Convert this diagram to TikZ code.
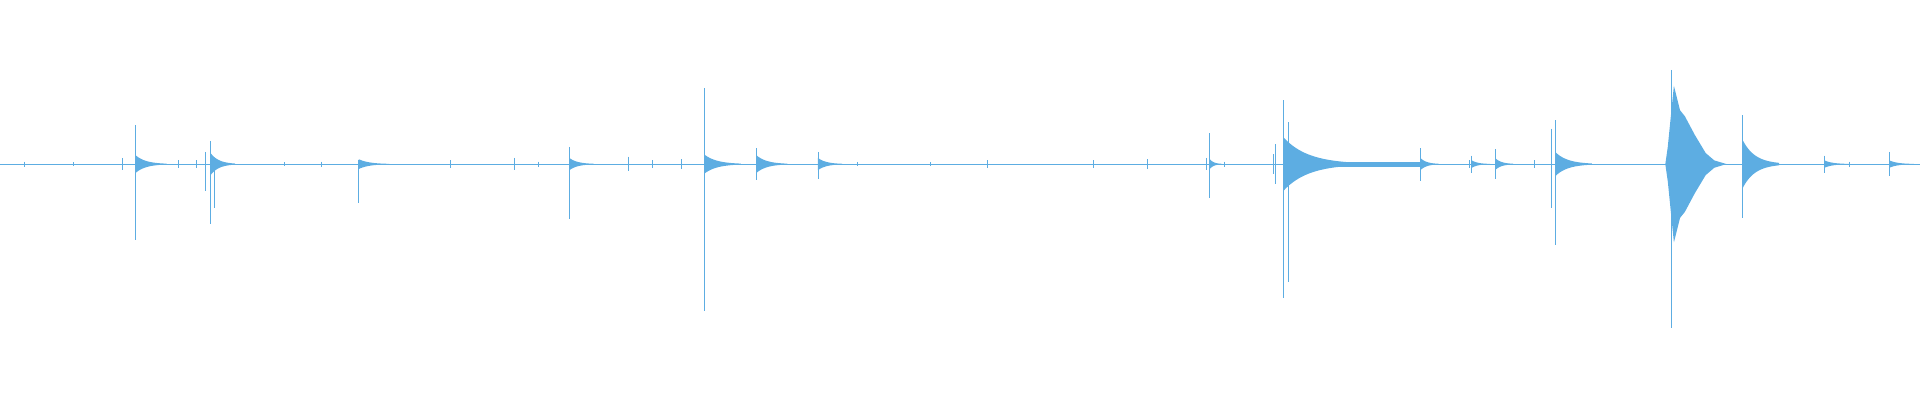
\documentclass[tikz,border=0pt]{standalone}
\begin{document}
\begin{tikzpicture}[x=1.2245pt,y=-1.2245pt]
\definecolor{wv}{HTML}{5DADE2}
\useasboundingbox (0,0) rectangle (1568,326.7);
\tikzset{spk/.style={draw=wv,line width=0.9pt},env/.style={fill=wv}}
\newcommand{\wev}[5]{%
 \draw[spk] (#1,#2) -- (#1,#3);
 \fill[env] (#1,134) -- plot[domain=0:#5,samples=25] ({#1+\x},{134-#4*exp(-3*\x/#5)}) -- plot[domain=#5:0,samples=25] ({#1+\x},{134+#4*exp(-3*\x/#5)}) -- cycle;}
\draw[wv,line width=0.5pt] (0,134) -- (1568,134);
\foreach \p/\a in {20/2,60/1.5,100/5,146/3,160/3,232/1.5,262/2,368/3,420/5,440/2,513/6,533/3,556/4,700/1.5,760/1.5,806/3,893/3,937/4,985/5,1000/2,1040/8,1200/3,1253/3,1510/2}{\draw[wv,line width=0.6pt] (\p,134-\a) -- (\p,134+\a);}
\wev{111}{102}{196}{7}{25}
\wev{172}{115}{183}{9}{20}
\draw[spk] (168,124) -- (168,156); \draw[spk] (175,130) -- (175,170);
\wev{293}{131}{166}{4}{25}
\wev{465}{120}{179}{5}{20}
\wev{575}{72}{254}{8}{30}
\wev{618}{121}{147}{7}{25}
\wev{668}{124}{146}{5}{20}
\wev{1048}{82}{243}{22}{60}
\draw[spk] (1042,118) -- (1042,150); \draw[spk] (1052,100) -- (1052,230);
\fill[env] (1090,132) rectangle (1160,136);
\wev{988}{109}{162}{4}{10}
\wev{1160}{121}{148}{5}{15}
\wev{1202}{127}{141}{3}{15}
\wev{1221}{122}{146}{5}{15}
\wev{1270}{98}{200}{10}{30}
\draw[spk] (1267,105) -- (1267,170);
\draw[spk] (1365,57) -- (1365,268);
\fill[env] (1360,134) -- (1362,120) -- (1367,70) -- (1372,90) -- (1376,95) -- (1384,110) -- (1393,125) -- (1400,131) -- (1410,134) -- (1400,137) -- (1393,143) -- (1384,158) -- (1376,173) -- (1372,178) -- (1367,198) -- (1362,148) -- cycle;
\wev{1423}{94}{178}{20}{30}
\wev{1490}{127}{141}{3}{20}
\wev{1543}{124}{144}{3}{20}
\end{tikzpicture}
\end{document}
